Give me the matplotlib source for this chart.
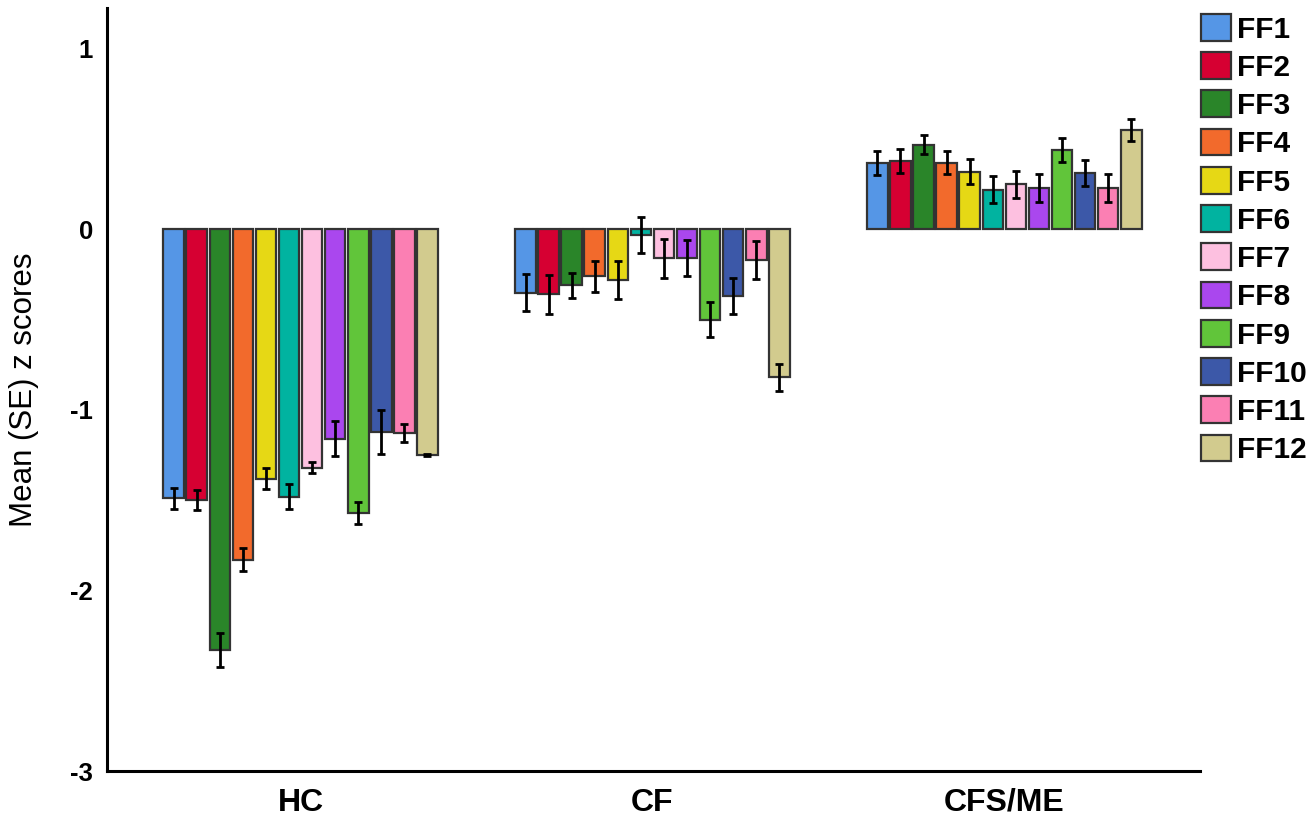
import numpy as np
import matplotlib
matplotlib.use("Agg")
import matplotlib.pyplot as plt
from matplotlib.patches import Patch

plt.rcParams["font.family"] = ["Liberation Sans", "DejaVu Sans"]

# Groups and factor names
groups = ["HC", "CF", "CFS/ME"]
factors = ["FF1", "FF2", "FF3", "FF4", "FF5", "FF6",
           "FF7", "FF8", "FF9", "FF10", "FF11", "FF12"]

# Mean z scores per group (one entry per factor)
hc_mean = [-1.49, -1.50, -2.33, -1.83, -1.38, -1.48,
           -1.32, -1.16, -1.57, -1.12, -1.13, -1.25]
cf_mean = [-0.35, -0.36, -0.31, -0.26, -0.28, -0.03,
           -0.16, -0.16, -0.50, -0.37, -0.17, -0.82]
cfs_mean = [0.37, 0.38, 0.47, 0.37, 0.32, 0.22,
            0.25, 0.23, 0.44, 0.31, 0.23, 0.55]

# Standard errors
hc_se = [0.059, 0.057, 0.092, 0.063, 0.056, 0.069,
         0.030, 0.097, 0.060, 0.122, 0.050, 0.005]
cf_se = [0.104, 0.106, 0.068, 0.087, 0.105, 0.100,
         0.108, 0.100, 0.096, 0.100, 0.106, 0.076]
cfs_se = [0.066, 0.065, 0.052, 0.065, 0.068, 0.073,
          0.076, 0.079, 0.065, 0.072, 0.078, 0.062]

colors = ["#5596E6", "#D60032", "#2A8529", "#F26A2C", "#E6D815", "#01B3A0",
          "#FDC0E0", "#AA47EE", "#61C53A", "#3C58A8", "#FB7FB3", "#D2CB8E"]

means = np.array([hc_mean, cf_mean, cfs_mean])
ses = np.array([hc_se, cf_se, cfs_se])

fig = plt.figure(figsize=(13.1, 8.21), dpi=100)
ax = fig.add_axes([0.0817, 0.0609, 0.8343, 0.9293])

x = np.arange(len(groups))
group_w = 0.787
step = group_w / len(factors)
bar_w = step * 0.89

for i, (name, col) in enumerate(zip(factors, colors)):
    pos = x - group_w / 2 + step * (i + 0.5)
    ax.bar(pos, means[:, i], width=bar_w, color=col,
           edgecolor="#333333", linewidth=1.6, zorder=2)
    ax.errorbar(pos, means[:, i], yerr=ses[:, i], fmt="none",
                ecolor="black", elinewidth=2, capsize=3, capthick=2, zorder=3)

ax.set_xlim(-0.55, 2.556)
ax.set_ylim(-3.0, 1.226)
ax.set_yticks([1, 0, -1, -2, -3])
ax.set_yticklabels(["1", "0", "-1", "-2", "-3"], fontsize=18.5, fontweight="bold")
ax.set_xticks(x)
ax.set_xticklabels(groups, fontsize=23, fontweight="bold")
ax.tick_params(axis="both", length=0)
ax.tick_params(axis="y", pad=10)
ax.tick_params(axis="x", pad=12)
ax.set_ylabel("Mean (SE) z scores", fontsize=22.5)
ax.yaxis.set_label_coords(-0.062, 0.5)

for side in ["top", "right"]:
    ax.spines[side].set_visible(False)
for side in ["left", "bottom"]:
    ax.spines[side].set_linewidth(2.2)

handles = [Patch(facecolor=c, edgecolor="#333333", linewidth=1.6) for c in colors]
fig.legend(handles, factors, loc="upper left",
           bbox_to_anchor=(1201 / 1310, 1 - 14 / 821),
           frameon=False, borderpad=0, borderaxespad=0,
           prop={"size": 21.5, "weight": "bold"},
           handlelength=1.0, handleheight=1.0,
           handletextpad=0.2, labelspacing=0.29)

fig.savefig("out.png", dpi=100)
